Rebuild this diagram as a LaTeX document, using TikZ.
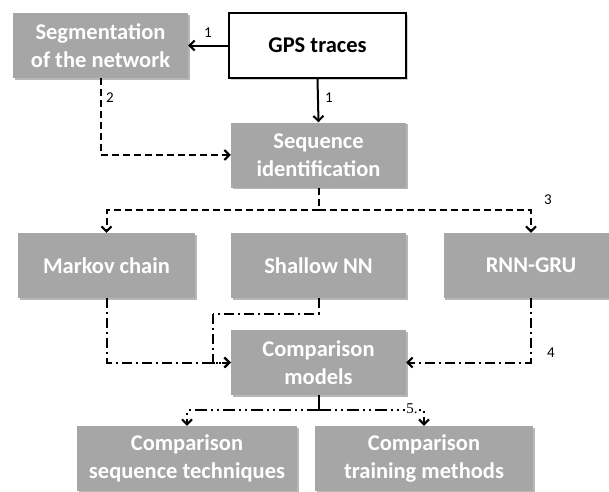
\documentclass[tikz,border=0pt]{standalone}
\usepackage{fontspec}
\setmainfont{Carlito}
\newfontfamily\numserif{Liberation Serif}
\usetikzlibrary{arrows.meta,shadows}
\definecolor{boxgray}{HTML}{A6A6A6}
\tikzset{
  flowbox/.style={fill=boxgray, text=white, align=center, inner sep=0pt,
    font=\bfseries\fontsize{22.5}{28}\selectfont,
    minimum width=175pt, minimum height=65pt,
    drop shadow={shadow xshift=1.8pt, shadow yshift=-1.8pt, fill=black!40, opacity=0.7}},
  srcbox/.style={fill=white, draw=black, line width=2pt, align=center, inner sep=0pt,
    font=\bfseries\fontsize{22.5}{28}\selectfont,
    minimum width=177pt, minimum height=65pt,
    drop shadow={shadow xshift=1.5pt, shadow yshift=-1.5pt, fill=black!30, opacity=0.6}},
  link/.style={line width=2pt, -{Straight Barb[length=5pt,width=10pt]}},
  dashlink/.style={link, dash pattern=on 7pt off 4pt},
  dotdash/.style={link, dash pattern=on 10pt off 4pt on 2pt off 4pt},
  dotdotdash/.style={link, dash pattern=on 12pt off 4pt on 2pt off 4pt on 2pt off 4pt},
  steplabel/.style={font=\fontsize{15}{17}\selectfont, inner sep=1pt},
}
\begin{document}
\begin{tikzpicture}[x=1pt,y=-1pt]
\useasboundingbox (0,0) rectangle (609,491);

% boxes
\node[flowbox] (seg) at (100.5,45.5) {Segmentation\\of the network};
\node[srcbox] (gps) at (317.5,45.5) {GPS traces};
\node[flowbox] (seq) at (318.5,155) {Sequence\\identification};
\node[flowbox, minimum width=177pt] (markov) at (106.5,265.5) {Markov chain};
\node[flowbox] (shallow) at (318.5,265.5) {Shallow NN};
\node[flowbox] (rnn) at (531,265.5) {RNN-GRU};
\node[flowbox] (comp) at (318.5,362.5) {Comparison\\models};
\node[flowbox, minimum width=220pt] (cst) at (187,458.5) {Comparison\\sequence techniques};
\node[flowbox, minimum width=218pt] (ctm) at (424,458.5) {Comparison\\training methods};

% step 1
\draw[link] (gps.west) -- (seg.east);
\node[steplabel] (l1a) at (208,33) {1};
\draw[link] (gps.south) -- (seq.north);
\node[steplabel] (l1b) at (329,98) {1};

% step 2
\draw[dashlink] (seg.south) |- (seq.west);
\node[steplabel] (l2) at (110,98) {2};

% step 3
\coordinate (j3) at (318.5,210);
\draw[dashlink, -] (seq.south) -- (j3);
\draw[dashlink] (j3) -| (markov.north);
\draw[dashlink] (j3) -| (rnn.north);
\node[steplabel] (l3) at (548,200) {3};

% step 4
\coordinate (sbend) at (213,314);
\draw[dotdash] (markov.south) |- (comp.west);
\draw[dotdash, -] (shallow.south) |- (sbend);
\draw[dotdash] (sbend) |- (comp.west);
\draw[dotdash] (rnn.south) |- (comp.east);
\node[steplabel] (l4) at (551,353) {4};

% step 5
\coordinate (j5) at (318.5,410);
\draw[line width=2pt] (comp.south) -- (j5);
\draw[dotdotdash] (j5) -| (cst.north);
\draw[dotdotdash] (j5) -| (ctm.north);
\node[fill=white, inner sep=1pt, font=\numserif\fontsize{15}{17}\selectfont] (l5) at (412,409) {5.};
\end{tikzpicture}
\end{document}
